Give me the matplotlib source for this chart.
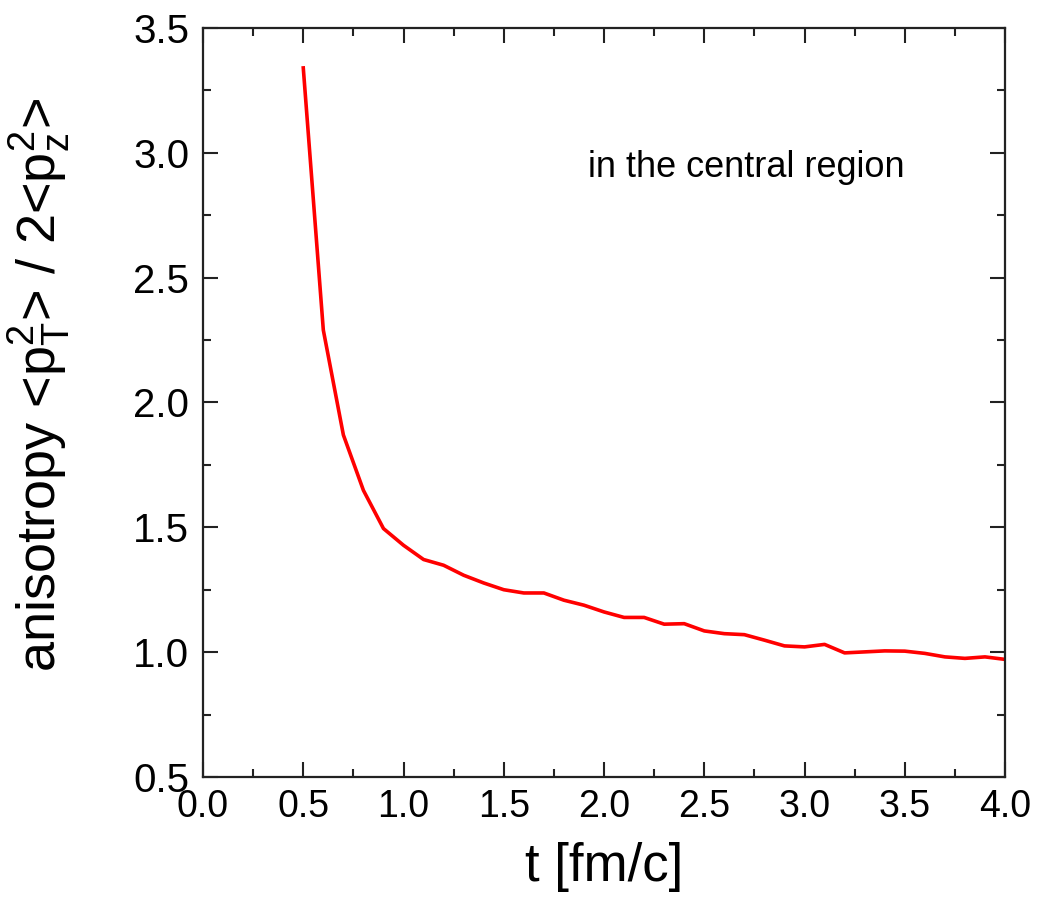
import matplotlib
matplotlib.use("Agg")
import matplotlib.pyplot as plt
from matplotlib.ticker import MultipleLocator

t = [0.5, 0.6, 0.7, 0.8, 0.9, 1.0, 1.1, 1.2, 1.3, 1.4, 1.5, 1.6, 1.7, 1.8, 1.9,
     2.0, 2.1, 2.2, 2.3, 2.4, 2.5, 2.6, 2.7, 2.8, 2.9, 3.0, 3.1, 3.2, 3.3, 3.4,
     3.5, 3.6, 3.7, 3.8, 3.9, 4.0]
anisotropy = [3.34, 2.29, 1.87, 1.648, 1.495, 1.428, 1.371, 1.348, 1.308, 1.277,
              1.25, 1.237, 1.237, 1.208, 1.188, 1.161, 1.139, 1.139, 1.112, 1.114,
              1.085, 1.074, 1.07, 1.048, 1.025, 1.021, 1.031, 0.997, 1.001, 1.005,
              1.004, 0.995, 0.981, 0.975, 0.981, 0.971]

font = ['Liberation Sans', 'DejaVu Sans']

fig = plt.figure(figsize=(10.39, 9.17), dpi=100)
ax = fig.add_axes([0.1954, 0.1527, 0.7719, 0.8168])

ax.plot(t, anisotropy, color='#ff0000', lw=2.6)

ax.set_xlim(0.0, 4.0)
ax.set_ylim(0.5, 3.5)
ax.xaxis.set_major_locator(MultipleLocator(0.5))
ax.xaxis.set_minor_locator(MultipleLocator(0.25))
ax.yaxis.set_major_locator(MultipleLocator(0.5))
ax.yaxis.set_minor_locator(MultipleLocator(0.25))
ax.tick_params(which='both', direction='in', top=True, right=True, width=1.5, color='#222222')
ax.tick_params(which='major', length=11)
ax.tick_params(which='minor', length=6)
ax.tick_params(axis='y', which='major', pad=10)
ax.tick_params(axis='x', which='major', pad=9)
for s in ax.spines.values():
    s.set_linewidth(1.6)
    s.set_color('#222222')

for lab in ax.get_yticklabels():
    lab.set_family(font)
    lab.set_fontsize(29)
for lab in ax.get_xticklabels():
    lab.set_family(font)
    lab.set_fontsize(27)

ax.set_xlabel('t [fm/c]', family=font, fontsize=38, labelpad=12)
ax.set_ylabel(r'anisotropy <p$_\mathregular{T}^\mathregular{2}$> / 2<p$_\mathregular{z}^\mathregular{2}$>',
              family=font, fontsize=39)
ax.yaxis.set_label_coords(-0.162, 0.523)

ax.text(0.875, 0.801, 'in the central region', transform=ax.transAxes,
        ha='right', va='baseline', family=font, fontsize=26)

fig.savefig('out.png', dpi=100)
